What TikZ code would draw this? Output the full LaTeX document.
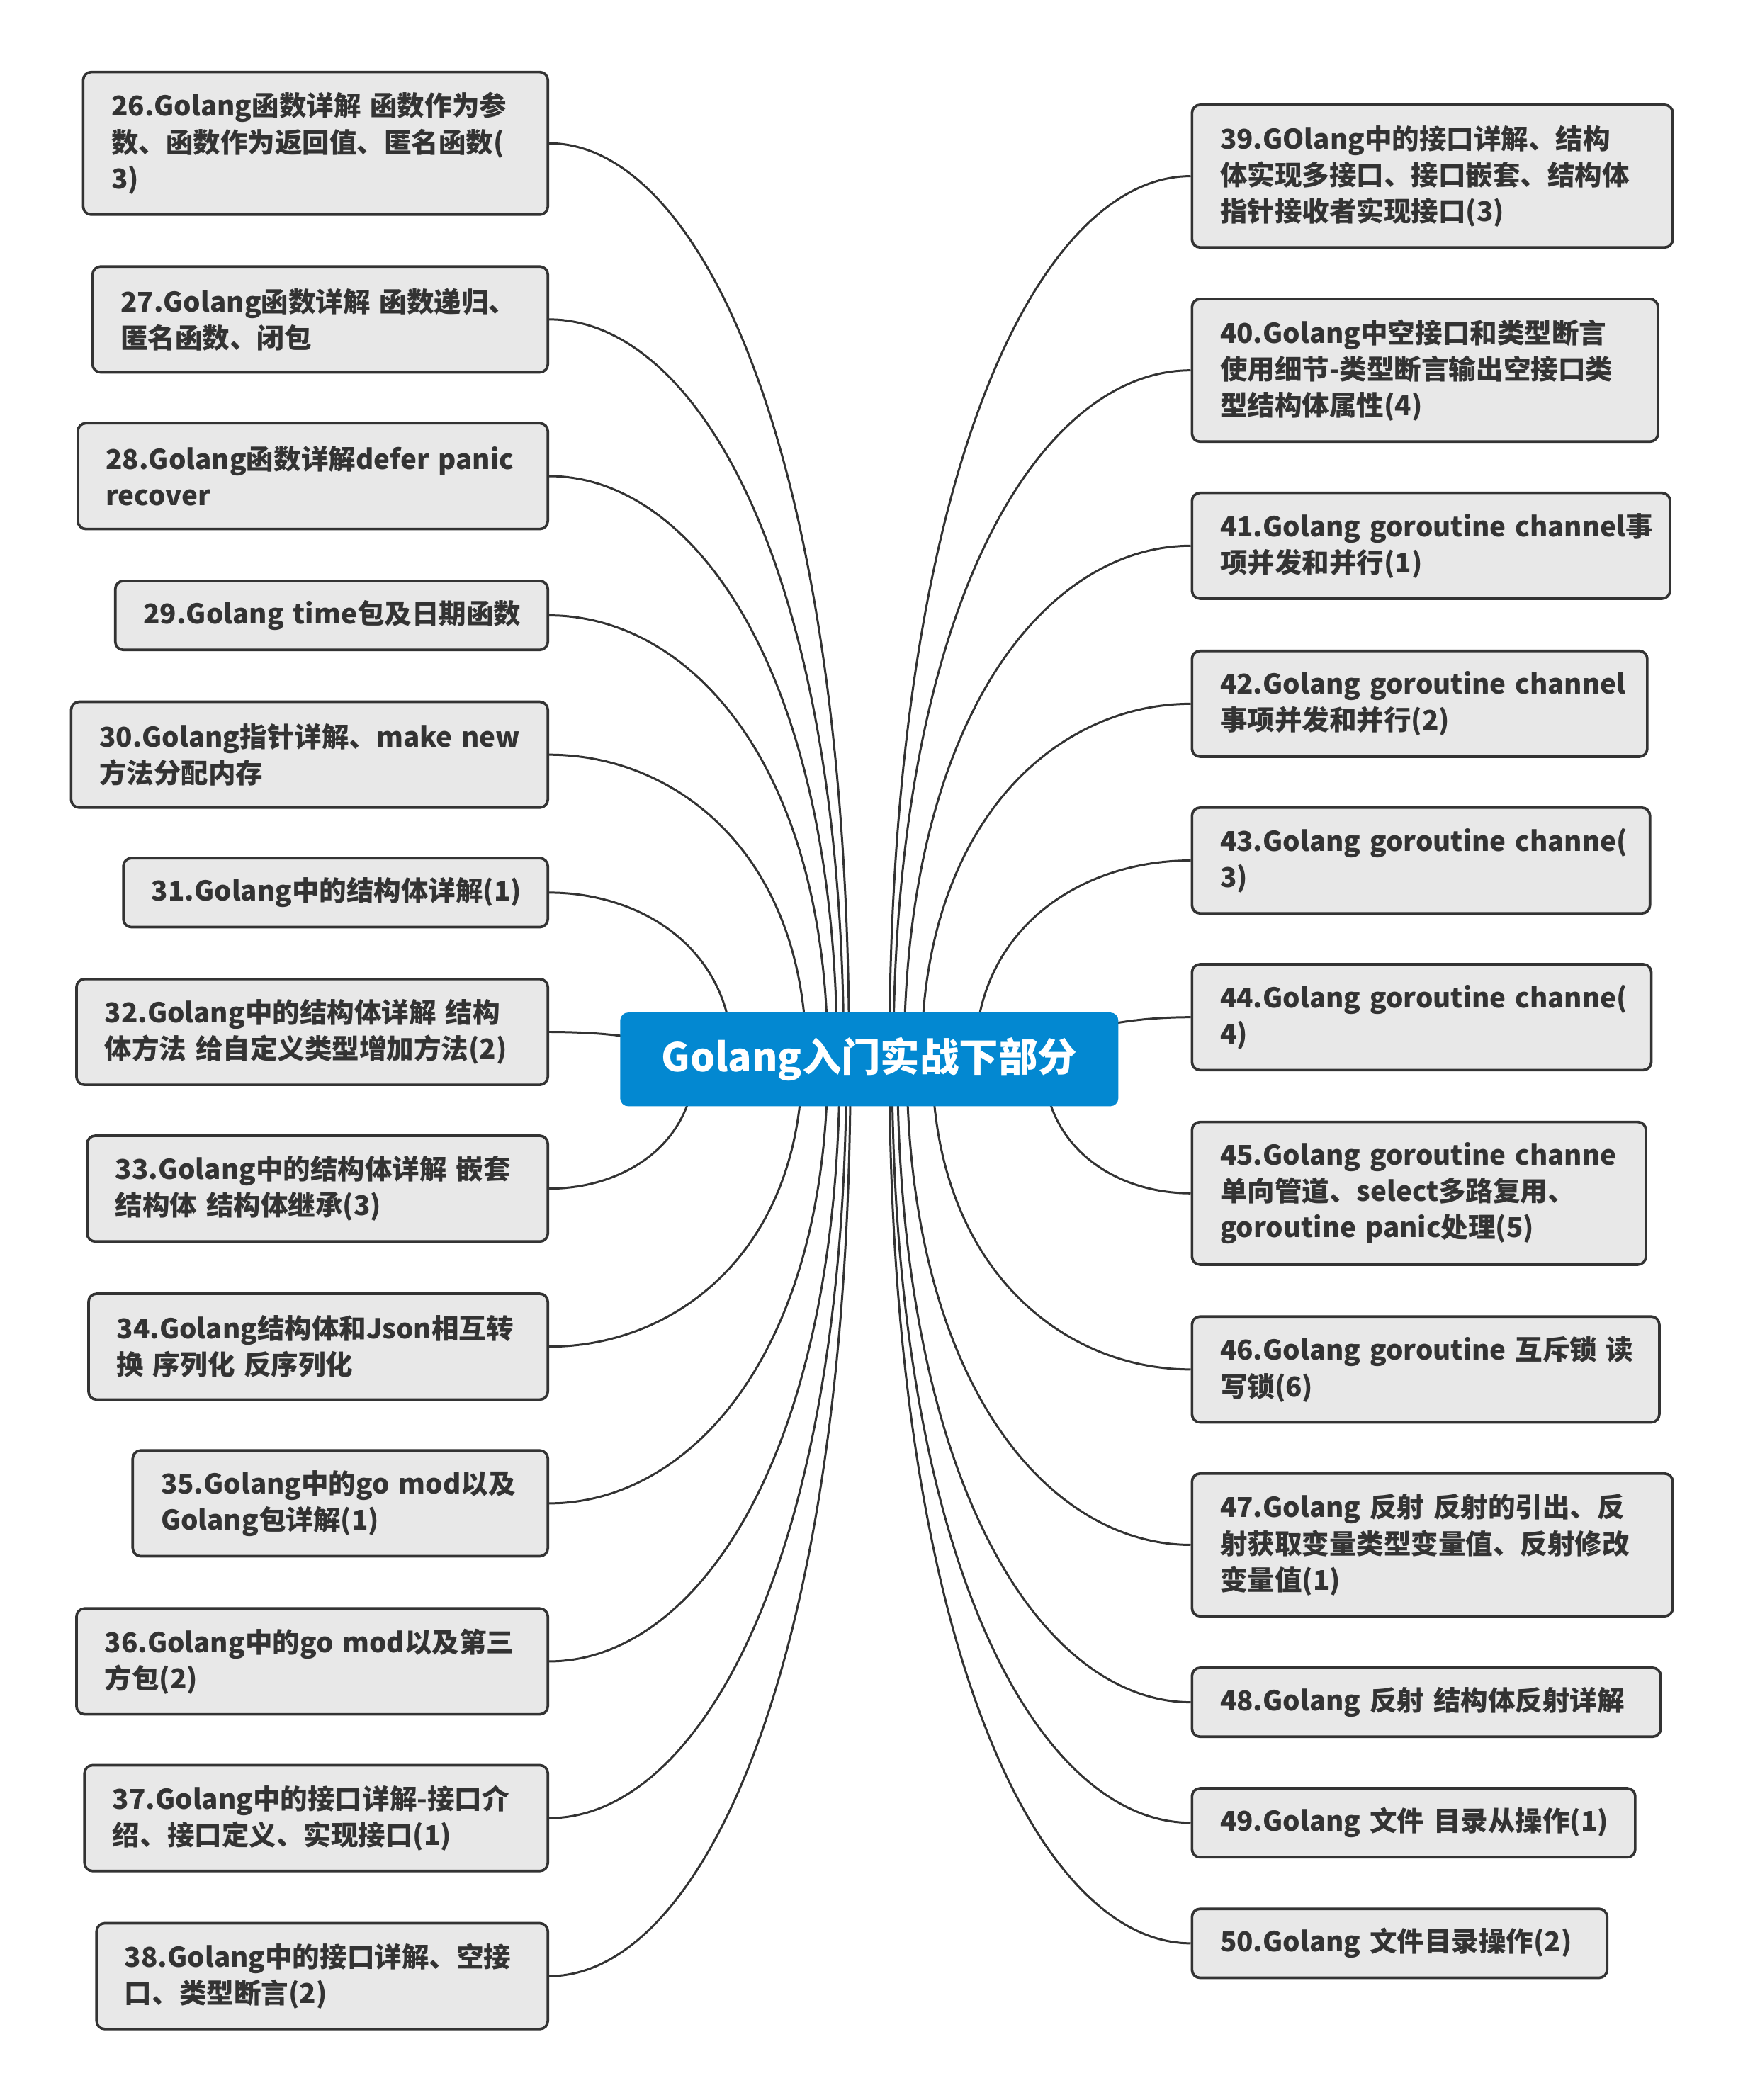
\documentclass[tikz,border=0pt]{standalone}
\usepackage{fontspec}
\setmainfont{Noto Sans CJK SC}
\usetikzlibrary{backgrounds, calc}

\definecolor{rootblue}{HTML}{0388D1}
\definecolor{topicfill}{HTML}{E8E8E8}
\definecolor{inkgray}{HTML}{333333}

\begin{document}
\begin{tikzpicture}[
    x=0.02cm, y=-0.02cm,
    root/.style      = {rectangle, fill=rootblue, rounded corners=0.12cm, text=white,
                        font=\fontsize{16.7}{20}\selectfont\bfseries,
                        minimum width=7.44cm, minimum height=1.4cm, inner sep=0pt},
    topic/.style     = {rectangle, draw=inkgray, fill=topicfill, line width=1.1pt,
                        rounded corners=0.12cm, text=inkgray, align=left,
                        font={\fontsize{11.6}{15.4}\selectfont\bfseries
                              \hyphenpenalty=10000\exhyphenpenalty=10000},
                        inner xsep=0.42cm, inner ysep=0.1cm},
    ltopic/.style    = {topic, anchor=east},
    rtopic/.style    = {topic, anchor=west},
    oneline/.style   = {minimum height=1.03cm},
    twoline/.style   = {minimum height=1.58cm},
    threeline/.style = {minimum height=2.13cm},
    link/.style      = {draw=inkgray, line width=0.9pt,
                        to path={.. controls ($(\tikztostart)!0.667!(\tikztostart |- \tikztotarget)$)
                                 and ($(\tikztotarget)!0.5!(\tikztostart |- \tikztotarget)$)
                                 .. (\tikztotarget)}},
]

\useasboundingbox (0,0) rectangle (1301,1568);

%% ---- Root ----
\node[root] (root) at (649,791) {Golang入门实战下部分};

%% ---- Left branch: 26 -- 38 ----
\node[ltopic, threeline, text width=6.10cm] (t26) at (410,107)
    {26.Golang函数详解~函数作为参\\数、函数作为返回值、匿名函数(\\3)};
\node[ltopic, twoline, text width=5.96cm] (t27) at (410,238.5)
    {27.Golang函数详解~函数递归、\\匿名函数、闭包};
\node[ltopic, twoline, text width=6.18cm] (t28) at (410,355.5)
    {28.Golang函数详解defer~panic\\recover};
\node[ltopic, oneline, text width=5.62cm] (t29) at (410,459.5)
    {29.Golang~time包及日期函数};
\node[ltopic, twoline, text width=6.28cm] (t30) at (410,563.5)
    {30.Golang指针详解、make~new\\方法分配内存};
\node[ltopic, oneline, text width=5.50cm] (t31) at (410,666.5)
    {31.Golang中的结构体详解(1)};
\node[ltopic, twoline, text width=6.20cm] (t32) at (410,770.5)
    {32.Golang中的结构体详解~结构\\体方法~给自定义类型增加方法(2)};
\node[ltopic, twoline, text width=6.04cm] (t33) at (410,887.5)
    {33.Golang中的结构体详解~嵌套\\结构体~结构体继承(3)};
\node[ltopic, twoline, text width=6.02cm] (t34) at (410,1005.5)
    {34.Golang结构体和Json相互转\\换~序列化~反序列化};
\node[ltopic, twoline, text width=5.36cm] (t35) at (410,1122.5)
    {35.Golang中的go~mod以及\\Golang包详解(1)};
\node[ltopic, twoline, text width=6.20cm] (t36) at (410,1240.5)
    {36.Golang中的go~mod以及第三\\方包(2)};
\node[ltopic, twoline, text width=6.08cm] (t37) at (410,1357.5)
    {37.Golang中的接口详解-接口介\\绍、接口定义、实现接口(1)};
\node[ltopic, twoline, text width=5.90cm] (t38) at (410,1475.5)
    {38.Golang中的接口详解、空接\\口、类型断言(2)};

%% ---- Right branch: 39 -- 50 ----
\node[rtopic, threeline, text width=6.34cm] (t39) at (889,131.5)
    {39.GOlang中的接口详解、结构\\体实现多接口、接口嵌套、结构体\\指针接收者实现接口(3)};
\node[rtopic, threeline, text width=6.12cm] (t40) at (889,276.5)
    {40.Golang中空接口和类型断言\\使用细节-类型断言输出空接口类\\型结构体属性(4)};
\node[rtopic, twoline, text width=6.30cm] (t41) at (889,407.5)
    {41.Golang~goroutine~channel事\\项并发和并行(1)};
\node[rtopic, twoline, text width=5.96cm] (t42) at (889,525.5)
    {42.Golang~goroutine~channel\\事项并发和并行(2)};
\node[rtopic, twoline, text width=6.00cm] (t43) at (889,642.5)
    {43.Golang~goroutine~channe(\\3)};
\node[rtopic, twoline, text width=6.02cm] (t44) at (889,759.5)
    {44.Golang~goroutine~channe(\\4)};
\node[rtopic, threeline, text width=5.94cm] (t45) at (889,891)
    {45.Golang~goroutine~channe\\单向管道、select多路复用、\\goroutine~panic处理(5)};
\node[rtopic, twoline, text width=6.14cm] (t46) at (889,1022.5)
    {46.Golang~goroutine~互斥锁~读\\写锁(6)};
\node[rtopic, threeline, text width=6.34cm] (t47) at (889,1153.5)
    {47.Golang~反射~反射的引出、反\\射获取变量类型变量值、反射修改\\变量值(1)};
\node[rtopic, oneline, text width=6.16cm] (t48) at (889,1271)
    {48.Golang~反射~结构体反射详解};
\node[rtopic, oneline, text width=5.78cm] (t49) at (889,1361)
    {49.Golang~文件~目录从操作(1)};
\node[rtopic, oneline, text width=5.36cm] (t50) at (889,1451)
    {50.Golang~文件目录操作(2)};

%% ---- Link origins (hidden behind the root) ----
\coordinate (o26) at (634,791);
\coordinate (o27) at (630,791);
\coordinate (o28) at (625,791);
\coordinate (o29) at (618,791);
\coordinate (o30) at (602,791);
\coordinate (o31) at (547,791);
\coordinate (o32) at (510,791);
\coordinate (o33) at (519,791);
\coordinate (o34) at (599,791);
\coordinate (o35) at (618,791);
\coordinate (o36) at (627,791);
\coordinate (o37) at (632,791);
\coordinate (o38) at (635,791);
\coordinate (o39) at (664,791);
\coordinate (o40) at (667,791);
\coordinate (o41) at (675,791);
\coordinate (o42) at (688,791);
\coordinate (o43) at (728,791);
\coordinate (o44) at (785,791);
\coordinate (o45) at (779,791);
\coordinate (o46) at (696,791);
\coordinate (o47) at (677,791);
\coordinate (o48) at (670,791);
\coordinate (o49) at (666,791);
\coordinate (o50) at (664,791);

%% ---- Links ----
\begin{scope}[on background layer]
    \fill[white] (0,0) rectangle (1301,1568);
    \draw[link] (o26) to (t26.east);
    \draw[link] (o27) to (t27.east);
    \draw[link] (o28) to (t28.east);
    \draw[link] (o29) to (t29.east);
    \draw[link] (o30) to (t30.east);
    \draw[link] (o31) to (t31.east);
    \draw[link] (o32) to (t32.east);
    \draw[link] (o33) to (t33.east);
    \draw[link] (o34) to (t34.east);
    \draw[link] (o35) to (t35.east);
    \draw[link] (o36) to (t36.east);
    \draw[link] (o37) to (t37.east);
    \draw[link] (o38) to (t38.east);
    \draw[link] (o39) to (t39.west);
    \draw[link] (o40) to (t40.west);
    \draw[link] (o41) to (t41.west);
    \draw[link] (o42) to (t42.west);
    \draw[link] (o43) to (t43.west);
    \draw[link] (o44) to (t44.west);
    \draw[link] (o45) to (t45.west);
    \draw[link] (o46) to (t46.west);
    \draw[link] (o47) to (t47.west);
    \draw[link] (o48) to (t48.west);
    \draw[link] (o49) to (t49.west);
    \draw[link] (o50) to (t50.west);
\end{scope}

\end{tikzpicture}
\end{document}
